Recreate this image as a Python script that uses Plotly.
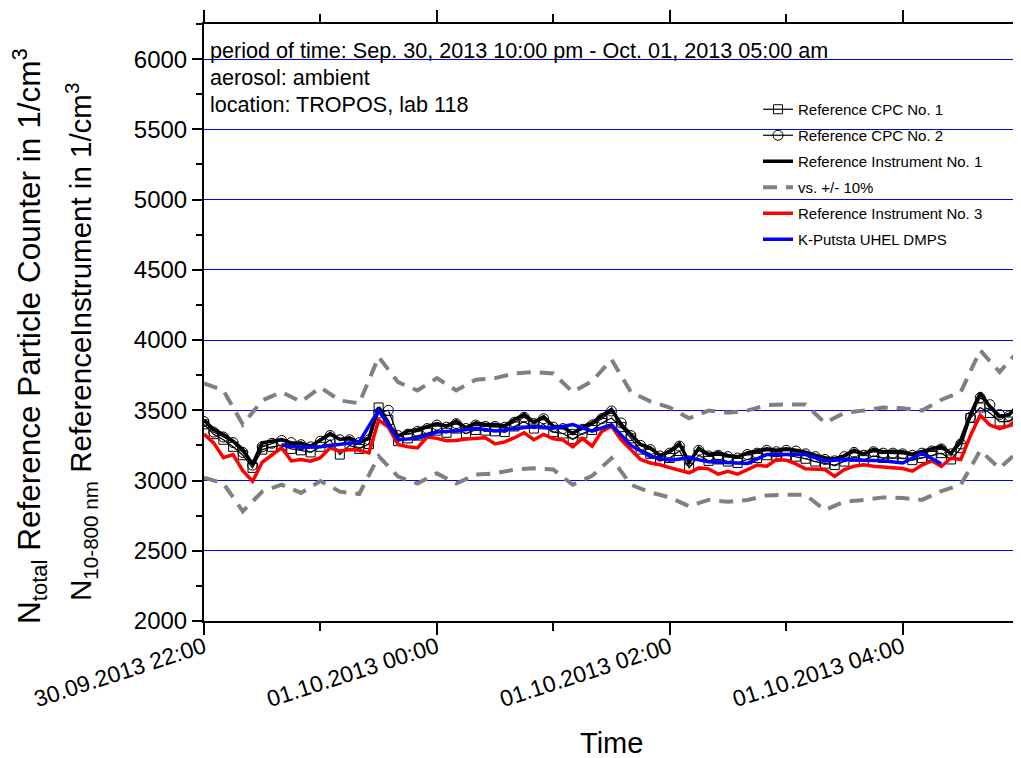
import plotly.graph_objects as go
import pandas as pd

# ---------------- data (minutes after 30.09.2013 22:00) ----------------
start = pd.Timestamp("2013-09-30 22:00")

t5 = list(range(0, 425, 5))          # 5-min grid for CPCs / instruments
t10 = list(range(0, 430, 10))        # 10-min grid for +/-10 % band
t_dmps = list(range(40, 390, 10))    # DMPS

ref_inst1 = [3430, 3364, 3328, 3280, 3221, 3114, 3268, 3280, 3292, 3268,
             3268, 3245, 3292, 3335, 3292, 3304, 3268, 3304, 3520, 3400,
             3316, 3352, 3364, 3387, 3406, 3387, 3423, 3375, 3411, 3399,
             3399, 3390, 3435, 3470, 3416, 3454, 3387, 3382, 3335, 3382,
             3411, 3463, 3506, 3399, 3328, 3257, 3233, 3178, 3210, 3264,
             3130, 3230, 3185, 3197, 3178, 3169, 3197, 3209, 3226, 3216,
             3226, 3216, 3202, 3180, 3162, 3154, 3178, 3216, 3190, 3222,
             3205, 3209, 3205, 3188, 3205, 3225, 3245, 3192, 3290, 3470,
             3625, 3525, 3455, 3470, 3545]

cpc2 = [3420, 3345, 3310, 3270, 3200, 3110, 3240, 3265, 3285, 3270,
        3255, 3240, 3280, 3320, 3290, 3290, 3270, 3290, 3480, 3500,
        3320, 3330, 3350, 3370, 3395, 3380, 3405, 3370, 3395, 3385,
        3385, 3380, 3415, 3450, 3405, 3440, 3380, 3370, 3330, 3365,
        3395, 3440, 3495, 3410, 3320, 3250, 3220, 3175, 3195, 3245,
        3140, 3215, 3175, 3180, 3170, 3160, 3185, 3195, 3215, 3205,
        3215, 3210, 3190, 3170, 3150, 3140, 3170, 3200, 3180, 3205,
        3195, 3195, 3190, 3180, 3195, 3210, 3225, 3190, 3260, 3450,
        3590, 3540, 3470, 3460, 3530]

cpc1 = [3400, 3330, 3290, 3240, 3180, 3090, 3220, 3240, 3250, 3225,
        3215, 3200, 3240, 3290, 3185, 3250, 3225, 3260, 3520, 3430,
        3280, 3300, 3320, 3340, 3355, 3340, 3370, 3335, 3360, 3355,
        3350, 3345, 3385, 3420, 3370, 3400, 3345, 3335, 3295, 3335,
        3360, 3410, 3445, 3380, 3300, 3220, 3190, 3140, 3160, 3210,
        3090, 3180, 3140, 3150, 3135, 3125, 3150, 3160, 3180, 3170,
        3180, 3170, 3155, 3135, 3120, 3110, 3135, 3170, 3145, 3175,
        3160, 3160, 3160, 3145, 3160, 3175, 3195, 3150, 3230, 3445,
        3520, 3480, 3420, 3420, 3490]

ref_inst3 = [3330, 3268, 3162, 3185, 3070, 2995, 3130, 3180, 3233, 3140,
             3150, 3138, 3162, 3233, 3209, 3221, 3216, 3197, 3430, 3380,
             3257, 3240, 3233, 3310, 3300, 3283, 3285, 3296, 3302, 3304,
             3260, 3275, 3305, 3340, 3290, 3328, 3297, 3288, 3240, 3300,
             3245, 3350, 3387, 3290, 3220, 3150, 3125, 3112, 3092, 3075,
             3055, 3090, 3083, 3045, 3065, 3045, 3076, 3110, 3102, 3150,
             3145, 3118, 3083, 3083, 3078, 3030, 3078, 3102, 3112, 3102,
             3098, 3090, 3085, 3067, 3110, 3140, 3100, 3160, 3150, 3320,
             3465, 3395, 3370, 3390, 3450]

dmps = [3255, 3235, 3240, 3255, 3275, 3500, 3290, 3300, 3345, 3352,
        3372, 3352, 3366, 3385, 3372, 3398, 3352, 3397, 3250, 3170,
        3145, 3162, 3133, 3126, 3122, 3185, 3185, 3185, 3140, 3150,
        3145, 3140, 3125, 3195, 3120]

band_upper = [3691, 3641, 3399, 3570, 3630, 3560, 3663, 3570, 3550, 3880,
              3700, 3641, 3729, 3641, 3718, 3729, 3762, 3773, 3762, 3630,
              3707, 3861, 3630, 3564, 3520, 3443, 3498, 3482, 3498, 3537,
              3542, 3542, 3410, 3482, 3498, 3520, 3515, 3498, 3575, 3630,
              3927, 3773, 3927]

band_lower = [3020, 2979, 2781, 2921, 2970, 2912, 2997, 2921, 2904, 3174,
              3028, 2979, 3051, 2979, 3042, 3051, 3078, 3087, 3078, 2970,
              3033, 3159, 2970, 2916, 2880, 2817, 2862, 2849, 2862, 2894,
              2898, 2898, 2790, 2849, 2862, 2880, 2876, 2862, 2925, 2970,
              3213, 3087, 3213]

y_ticks = [2000, 2500, 3000, 3500, 4000, 4500, 5000, 5500, 6000]

info_lines = ["period of time: Sep. 30, 2013 10:00 pm - Oct. 01, 2013 05:00 am",
              "aerosol: ambient",
              "location: TROPOS, lab 118"]


def to_time(mins):
    return [start + pd.Timedelta(minutes=m) for m in mins]


FONT = "Liberation Sans, Arial, sans-serif"

fig = go.Figure()

fig.add_trace(go.Scatter(
    x=to_time(t5), y=cpc1, name="Reference CPC No. 1", mode="lines+markers",
    line=dict(color="black", width=1.2),
    marker=dict(symbol="square-open", size=9, color="black", line=dict(width=1)),
    legendgroup="g1"))
fig.add_trace(go.Scatter(
    x=to_time(t5), y=cpc2, name="Reference CPC No. 2", mode="lines+markers",
    line=dict(color="black", width=1.2),
    marker=dict(symbol="circle-open", size=10, color="black", line=dict(width=1)),
    legendgroup="g2"))
fig.add_trace(go.Scatter(
    x=to_time(t5), y=ref_inst1, name="Reference Instrument No. 1", mode="lines",
    line=dict(color="black", width=3.5), legendgroup="g3"))
fig.add_trace(go.Scatter(
    x=to_time(t10), y=band_upper, name="vs. +/- 10%", mode="lines",
    line=dict(color="#808080", width=4, dash="14px,9px"), legendgroup="g4"))
fig.add_trace(go.Scatter(
    x=to_time(t10), y=band_lower, name="vs. +/- 10%", mode="lines",
    line=dict(color="#808080", width=4, dash="14px,9px"), legendgroup="g4",
    showlegend=False))
fig.add_trace(go.Scatter(
    x=to_time(t5), y=ref_inst3, name="Reference Instrument No. 3", mode="lines",
    line=dict(color="#ff0000", width=3.5), legendgroup="g5"))
fig.add_trace(go.Scatter(
    x=to_time(t_dmps), y=dmps, name="K-Putsta UHEL DMPS", mode="lines",
    line=dict(color="#0000ff", width=3.5), legendgroup="g6"))

# page body has an 8 px margin -> figure is placed at (8, 8)
OFF = 8
W, H = 1013, 750
PL, PR, PT, PB = 204, 1019, 24, 621          # plot box in page pixels
ML, MT = PL - OFF, PT - OFF
MR, MB = W - (PR - OFF), H - (PB - OFF)
pw, ph = PR - PL, PB - PT


def px_x(x):
    return (x - PL) / pw


def px_y(y):
    return (PB - y) / ph


fig.update_layout(
    width=W, height=H,
    margin=dict(l=ML, r=MR, t=MT, b=MB, pad=0, autoexpand=False),
    paper_bgcolor="white", plot_bgcolor="white",
    font=dict(family=FONT, color="black"),
    showlegend=True,
    legend=dict(x=px_x(758), y=px_y(93), xanchor="left", yanchor="top",
                bgcolor="rgba(0,0,0,0)", font=dict(size=15, family=FONT),
                tracegroupgap=3.5, traceorder="grouped", itemwidth=30),
)

fig.update_xaxes(
    type="date", automargin=False,
    range=[start, start + pd.Timedelta(hours=7)],
    tick0=start, dtick=2 * 3600 * 1000,
    tickformat="%d.%m.%Y %H:%M", tickangle=-18,
    tickfont=dict(size=23, family=FONT), ticklabelstandoff=-10,
    ticks="outside", ticklen=12, tickwidth=2, tickcolor="black",
    minor=dict(dtick=3600 * 1000, ticks="outside", ticklen=8, tickwidth=2, tickcolor="black"),
    showline=True, linewidth=2, linecolor="black", mirror="ticks",
    showgrid=False, zeroline=False,
)

fig.update_yaxes(
    range=[2000, 6250], automargin=False,
    tickvals=y_ticks, ticktext=[str(v) for v in y_ticks],
    tickfont=dict(size=24, family=FONT),
    ticks="outside", ticklen=10, tickwidth=2, tickcolor="black",
    minor=dict(dtick=250, tick0=2000, ticks="outside", ticklen=6, tickwidth=2,
               tickcolor="black", showgrid=False),
    showline=True, linewidth=2, linecolor="black", mirror="ticks",
    showgrid=True, gridcolor="#0000ff", gridwidth=1, zeroline=False,
)

annotations = []
for line, yy in zip(info_lines, [51, 78, 104]):
    annotations.append(dict(
        text=line, xref="paper", yref="paper", x=px_x(208), y=px_y(yy),
        xanchor="left", yanchor="middle", showarrow=False,
        font=dict(size=21.6, family=FONT, color="black")))

annotations.append(dict(
    text="Time", xref="paper", yref="paper", x=0.5, y=px_y(743),
    xanchor="center", yanchor="middle", showarrow=False,
    font=dict(size=29, family=FONT)))

annotations.append(dict(
    text="N<sub>total</sub> Reference Particle Counter in 1/cm<sup>3</sup>",
    xref="paper", yref="paper", x=px_x(29), y=px_y(336), textangle=-90,
    xanchor="center", yanchor="middle", showarrow=False,
    font=dict(size=31.5, family=FONT)))
annotations.append(dict(
    text="N<sub>10-800 nm</sub> ReferenceInstrument in 1/cm<sup>3</sup>",
    xref="paper", yref="paper", x=px_x(81), y=px_y(342), textangle=-90,
    xanchor="center", yanchor="middle", showarrow=False,
    font=dict(size=29.5, family=FONT)))

fig.update_layout(annotations=annotations)

fig.write_html("out.html")
